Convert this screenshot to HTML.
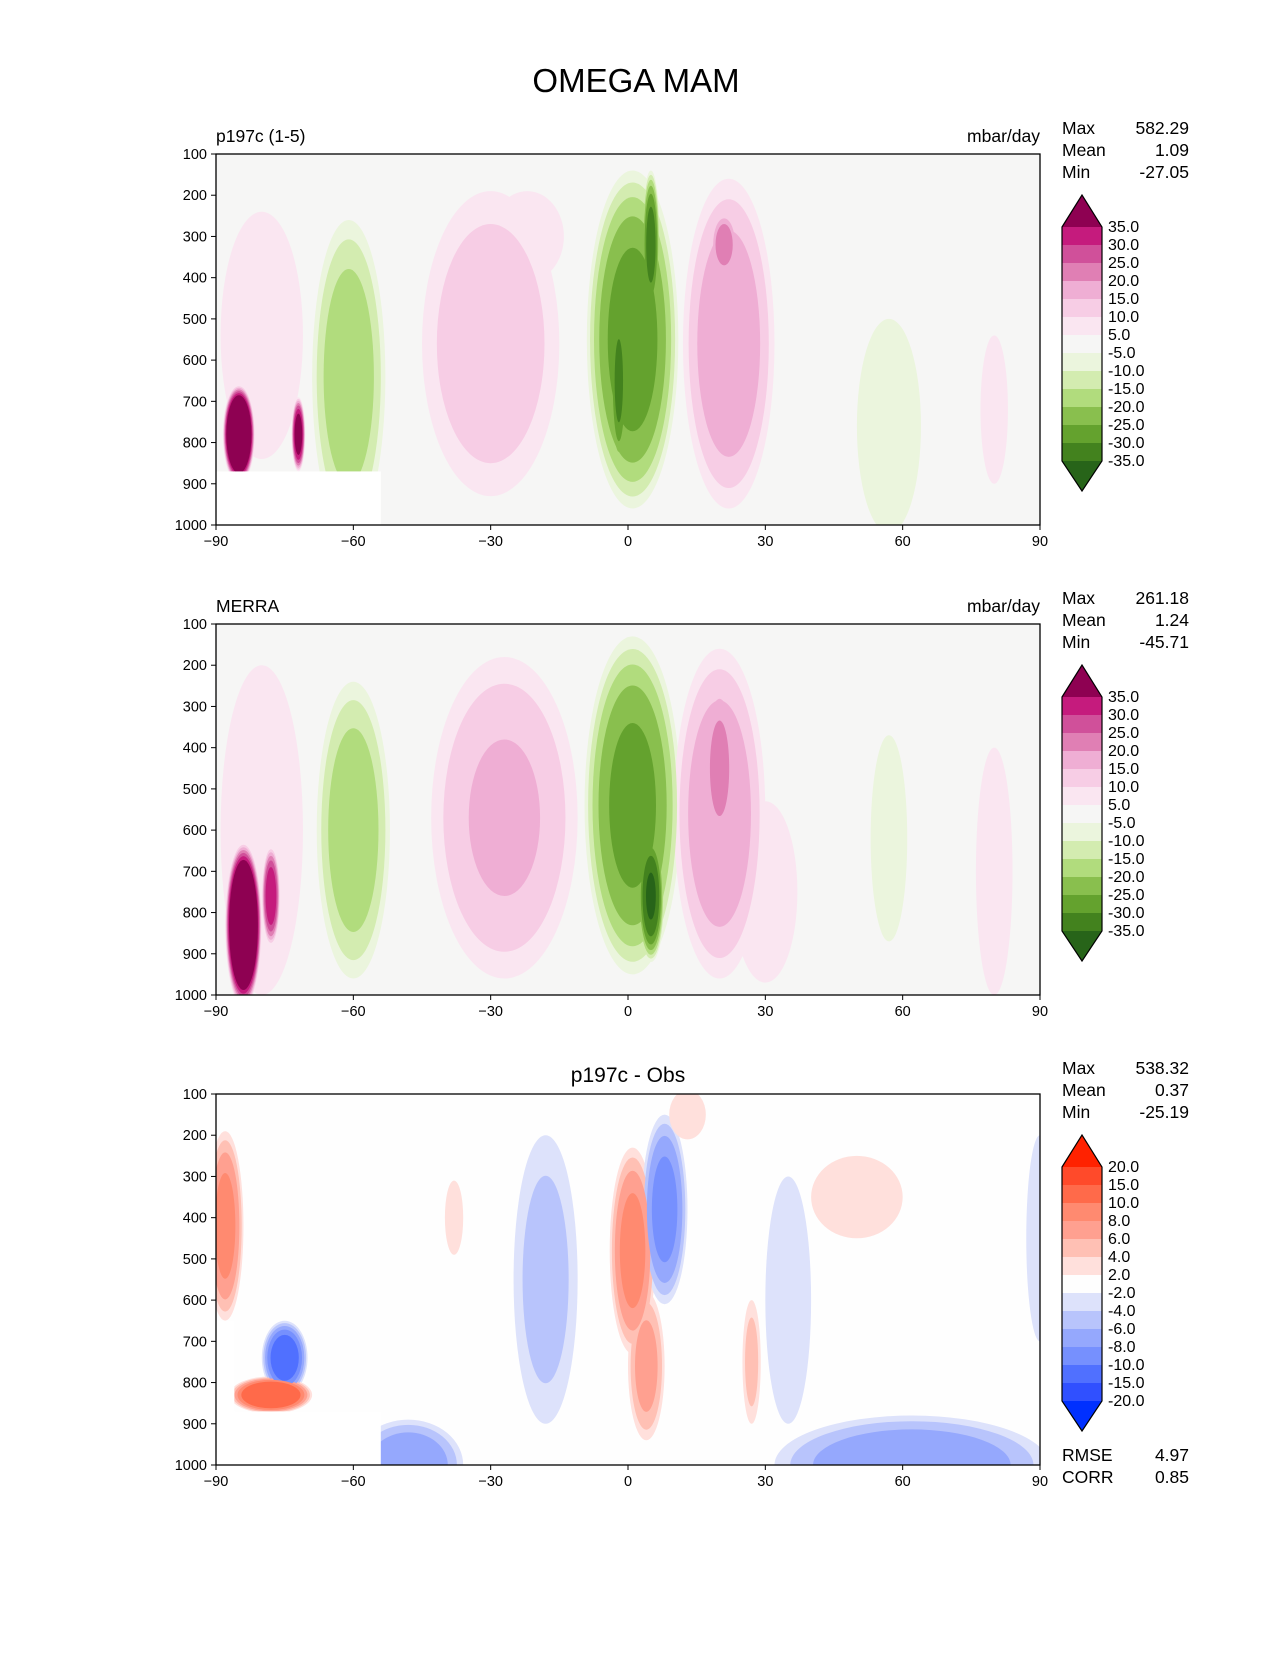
<!DOCTYPE html>
<html><head><meta charset="utf-8"><style>
body{margin:0;background:#fff;}
svg text{font-family:"Liberation Sans","DejaVu Sans",sans-serif;fill:#000;}
</style></head><body>
<svg id="fig" width="1275" height="1650" xmlns="http://www.w3.org/2000/svg">
<rect width="1275" height="1650" fill="#fff"/>
<text x="636" y="92" font-size="33" text-anchor="middle">OMEGA MAM</text>
</svg>
<script>
// ---- data ----
const yTicks=[100,200,300,400,500,600,700,800,900,1000];
const xTicks=[-90,-60,-30,0,30,60,90];
const piygLevels=[5,10,15,20,25,30,35];
const piygPos=['#fae6f1','#f7cde5','#efaed4','#e07fb4','#d0509a','#c51b7d','#8e0152'];
const piygNeg=['#ebf5dd','#d3ecb0','#b1dc7d','#89bf4e','#64a22e','#43821e','#276419'];
const piygLabels=['35.0','30.0','25.0','20.0','15.0','10.0','5.0','-5.0','-10.0','-15.0','-20.0','-25.0','-30.0','-35.0'];
const diffLevels=[2,4,6,8,10,15,20];
const diffPos=['#ffe0dc','#ffc0b4','#ffa090','#ff8a70','#ff6a4a','#ff4a2a','#ff2200'];
const diffNeg=['#dde2fb','#b8c4fc','#95a8fd','#7690fe','#5070ff','#3050ff','#0030ff'];
const diffLabels=['20.0','15.0','10.0','8.0','6.0','4.0','2.0','-2.0','-4.0','-6.0','-8.0','-10.0','-15.0','-20.0'];
// blobs: [lat, pressure, lat half-width, pressure half-height, peak value]
const blobs1=[[-30,560,15,370,14],[-22,300,8,110,8],[-80,540,9,300,8],[-61,640,8,380,-19],[1,550,10,410,-28],[5,320,2,180,-33],[-2,650,2,220,-32],
[22,560,10,400,19],[21,320,3,80,24],[-85,780,3.5,120,60],[-72,780,1.5,90,40],[57,760,7,260,-7],[80,720,3,180,7]];
const blobs2=[[-27,570,16,390,16],[-60,600,8,360,-19],[1,540,10.5,410,-27],[5,760,3,160,-36],[20,560,10,400,19],[20,450,4,220,22],
[30,750,7,220,7],[-80,600,9,400,8],[-84,830,4,200,60],[-78,760,2,120,35],[57,620,4,250,-7],[80,700,4,300,6]];
const blobs3=[[-88,420,4,230,9],[-18,550,7,350,-5],[1,480,5,250,9],[4,760,4,180,7],[8,380,5,230,-9],[62,1000,30,120,-8],
[-48,1000,12,110,-8],[35,600,5,300,-3],[50,350,10,100,3],[13,150,4,60,3],[-75,740,5,90,-12],[-78,830,9,45,14],
[-38,400,2,90,3],[90,450,3,250,-3],[27,750,2,150,5]];
const stats1=['582.29','1.09','-27.05'],stats2=['261.18','1.24','-45.71'],stats3=['538.32','0.37','-25.19'];
const masks1=[[-90,-54,870,1000]],masks2=[],masks3=[[-90,-54,870,1000],[-90,-86,650,870]];
// ---- drawing ----
const NS='http://www.w3.org/2000/svg',fig=document.getElementById('fig');
function mk(t,a,p){const e=document.createElementNS(NS,t);for(const k in a)e.setAttribute(k,a[k]);(p||fig).appendChild(e);return e;}
const X0=216,X1=1040,H=371;
function panel(id,top,blobs,levels,pos,neg,bg,masks,labels,stats,left,right,title){
  const sx=l=>X0+(l+90)/180*(X1-X0), sy=p=>top+(p-100)/900*H;
  const g=mk('g',{});
  const cp=mk('clipPath',{id:'c'+id},g);mk('rect',{x:X0,y:top,width:X1-X0,height:H},cp);
  const pg=mk('g',{'clip-path':'url(#c'+id+')'},g);
  mk('rect',{x:X0,y:top,width:X1-X0,height:H,fill:bg},pg);
  for(let k=0;k<levels.length;k++){
    for(const b of blobs){const v=Math.abs(b[4]);if(v<=levels[k])continue;
      const s=Math.pow((v-levels[k])/(v-levels[0]+1e-9),0.3);
      const e=mk('ellipse',{cx:sx(b[0]),cy:sy(b[1]),rx:(b[2]*s)*(X1-X0)/180,ry:b[3]*s*H/900,fill:b[4]>0?pos[k]:neg[k]},pg);
      
      }
  }
  for(const m of masks)mk('rect',{x:sx(m[0]),y:sy(m[2]),width:sx(m[1])-sx(m[0]),height:sy(m[3])-sy(m[2]),fill:'#fff'},pg);
  mk('rect',{x:X0,y:top,width:X1-X0,height:H,fill:'none',stroke:'#000','stroke-width':1.3},g);
  for(const p of yTicks){mk('line',{x1:X0-5,x2:X0,y1:sy(p),y2:sy(p),stroke:'#000'},g);
    const t=mk('text',{x:X0-9,y:sy(p)+5,'font-size':14.5,'text-anchor':'end'},g);t.textContent=p;
    }
  for(const l of xTicks){mk('line',{x1:sx(l),x2:sx(l),y1:top+H,y2:top+H+5,stroke:'#000'},g);
    const t=mk('text',{x:sx(l),y:top+H+21,'font-size':14.5,'text-anchor':'middle'},g);t.textContent=String(l).replace('-','\u2212');
    }
  if(left){const t=mk('text',{x:X0,y:top-12,'font-size':17.5},g);t.textContent=left;}
  if(right){const t=mk('text',{x:X1,y:top-12,'font-size':17.5,'text-anchor':'end'},g);t.textContent=right;}
  if(title){const t=mk('text',{x:628,y:top-12,'font-size':21,'text-anchor':'middle'},g);t.textContent=title;}
  const names=['Max','Mean','Min'];
  for(let i=0;i<3;i++){const a=mk('text',{x:1062,y:top-20+i*22,'font-size':17.5},g);a.textContent=names[i];
    
    const b=mk('text',{x:1189,y:top-20+i*22,'font-size':17.5,'text-anchor':'end'},g);b.textContent=stats[i];
    }
  const cb=top+73,bx=1062,bw=40,st=18;
  const cols=pos.slice(0,6).reverse().concat([bg]).concat(neg.slice(0,6));
  const cg=mk('g',{},g);
  mk('polygon',{points:`${bx},${cb} ${bx+bw/2},${cb-32} ${bx+bw},${cb}`,fill:pos[6]},cg);
  cols.forEach((c,i)=>mk('rect',{x:bx,y:cb+i*st,width:bw,height:st+0.5,fill:c},cg));
  const bot=cb+13*st;
  mk('polygon',{points:`${bx},${bot} ${bx+bw/2},${bot+30} ${bx+bw},${bot}`,fill:neg[6]},cg);
  mk('polygon',{points:`${bx},${cb} ${bx+bw/2},${cb-32} ${bx+bw},${cb} ${bx+bw},${bot} ${bx+bw/2},${bot+30} ${bx},${bot}`,fill:'none',stroke:'#000','stroke-width':1.2},cg);
  labels.forEach((s,i)=>{const t=mk('text',{x:bx+46,y:cb+i*st+5,'font-size':16},cg);
    t.textContent=s;});
}
panel('panel-model',154,blobs1,piygLevels,piygPos,piygNeg,'#f6f6f5',masks1,piygLabels,stats1,'p197c (1-5)','mbar/day',null);
panel('panel-merra',624,blobs2,piygLevels,piygPos,piygNeg,'#f6f6f5',masks2,piygLabels,stats2,'MERRA','mbar/day',null);
panel('panel-diff',1094,blobs3,diffLevels,diffPos,diffNeg,'#fefefe',masks3,diffLabels,stats3,null,null,'p197c - Obs');
</script>
<svg style="position:absolute;left:0;top:0" width="1275" height="1650">
<text x="1062" y="1461" font-size="17.5" font-family="Liberation Sans,sans-serif">RMSE</text>
<text x="1189" y="1461" font-size="17.5" text-anchor="end" font-family="Liberation Sans,sans-serif">4.97</text>
<text x="1062" y="1483" font-size="17.5" font-family="Liberation Sans,sans-serif">CORR</text>
<text x="1189" y="1483" font-size="17.5" text-anchor="end" font-family="Liberation Sans,sans-serif">0.85</text>
</svg>
</body></html>
